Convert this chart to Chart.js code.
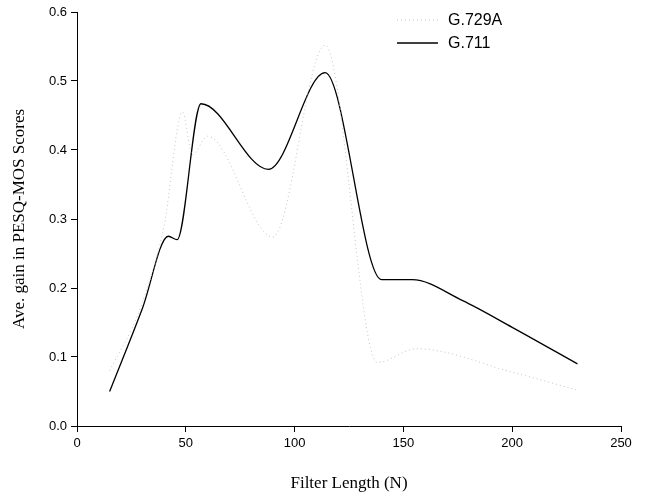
<!DOCTYPE html>
<html>
<head>
<meta charset="utf-8">
<script src="https://cdn.jsdelivr.net/npm/chart.js@4"></script>
<style>
  html, body { margin: 0; padding: 0; background: #fff; }
  #wrap { width: 646px; height: 497px; }
</style>
</head>
<body>
<div id="wrap"><canvas id="graphCanvas" width="646" height="497"></canvas></div>
<script>
const ctx = document.getElementById('graphCanvas').getContext('2d');

// Values
const g729X = [15, 29, 40, 48.5, 53, 60, 90, 114, 138, 156, 200, 230];
const g729Y = [0.08, 0.17, 0.29, 0.455, 0.393, 0.42, 0.274, 0.552, 0.092, 0.112, 0.078, 0.052];

const g711X = [15, 30, 42, 46, 57, 88, 114, 140, 154, 177, 200, 230];
const g711Y = [0.05, 0.17, 0.275, 0.27, 0.467, 0.372, 0.512, 0.212, 0.212, 0.182, 0.143, 0.09];

const xTicks = [0, 50, 100, 150, 200, 250];
const yTicks = [0, 0.1, 0.2, 0.3, 0.4, 0.5, 0.6];

function toPoints(xs, ys) {
    return xs.map((x, i) => ({ x: x, y: ys[i] }));
}

// Simple legend drawn in the top right corner, stacked vertically
const stackedLegend = {
    id: 'stackedLegend',
    afterDraw(chart) {
        const c = chart.ctx;
        const items = chart.data.datasets;
        c.save();
        c.font = '16px "Liberation Sans", Arial, sans-serif';
        c.textBaseline = 'middle';
        c.fillStyle = '#000';
        items.forEach((ds, i) => {
            const y = 20 + i * 23;
            c.beginPath();
            c.setLineDash(ds.borderDash || []);
            c.strokeStyle = ds.borderColor;
            c.lineWidth = ds.borderWidth;
            c.moveTo(397, y);
            c.lineTo(438, y);
            c.stroke();
            c.setLineDash([]);
            c.fillText(ds.label, 448, y + 1);
        });
        c.restore();
    }
};

const tickFont = { family: '"Liberation Sans", Arial, sans-serif', size: 13 };
const titleFont = { family: '"Liberation Serif", "Times New Roman", serif', size: 17 };

new Chart(ctx, {
    type: 'line',
    data: {
        datasets: [
            {
                label: 'G.729A',
                data: toPoints(g729X, g729Y),
                borderColor: '#c4c4c4',
                borderDash: [1, 3],
                borderWidth: 1,
                pointRadius: 0,
                cubicInterpolationMode: 'monotone',
                fill: false
            },
            {
                label: 'G.711',
                data: toPoints(g711X, g711Y),
                borderColor: '#000',
                borderWidth: 1.3,
                pointRadius: 0,
                cubicInterpolationMode: 'monotone',
                fill: false
            }
        ]
    },
    options: {
        responsive: false,
        animation: false,
        layout: { padding: { top: 12, right: 25, left: 0, bottom: 0 } },
        plugins: {
            legend: { display: false },
            tooltip: { enabled: false }
        },
        scales: {
            x: {
                type: 'linear',
                min: 0,
                max: 250,
                afterBuildTicks: s => { s.ticks = xTicks.map(v => ({ value: v })); },
                afterFit: s => { s.height = 71; },
                grid: { drawOnChartArea: false, drawTicks: true, tickLength: 6, color: '#000' },
                border: { display: true, color: '#000', width: 1 },
                ticks: { color: '#000', font: tickFont, padding: 4, maxRotation: 0 },
                title: { display: true, text: 'Filter Length (N)', color: '#000', font: titleFont, padding: { top: 4, bottom: 3 } }
            },
            y: {
                min: 0,
                max: 0.6,
                afterBuildTicks: s => { s.ticks = yTicks.map(v => ({ value: v })); },
                afterFit: s => { s.width = 77; },
                grid: { drawOnChartArea: false, drawTicks: true, tickLength: 6, color: '#000' },
                border: { display: true, color: '#000', width: 1 },
                ticks: { color: '#000', font: tickFont, padding: 4, callback: v => v.toFixed(1) },
                title: { display: true, text: 'Ave. gain in PESQ-MOS Scores', color: '#000', font: titleFont, padding: { top: 9, bottom: 4 } }
            }
        }
    },
    plugins: [stackedLegend]
});
</script>
</body>
</html>
